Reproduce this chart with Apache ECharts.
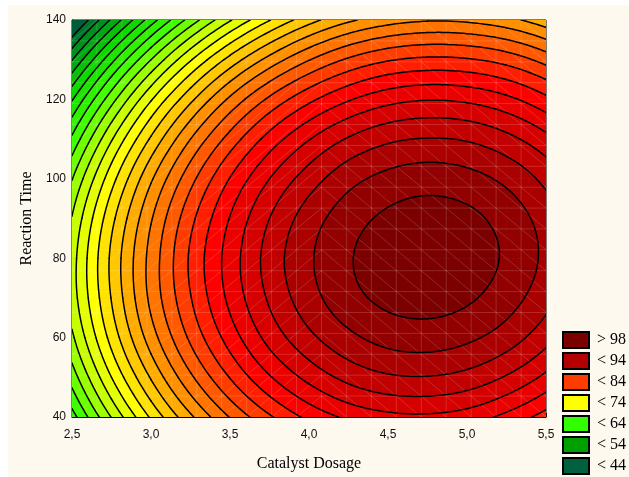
<!DOCTYPE html>
<html><head><meta charset="utf-8">
<script src="https://cdn.jsdelivr.net/npm/echarts@6/dist/echarts.min.js"></script>
<style>html,body{margin:0;padding:0;background:#fff}#c{width:629px;height:477px}</style>
</head><body><div id="c"></div>
<script>
// ---- data ----
const catalystDosage = [2.5, 2.75, 3.0, 3.25, 3.5, 3.75, 4.0, 4.25, 4.5, 4.75, 5.0, 5.25, 5.5];
const reactionTime = [40, 50, 60, 70, 80, 90, 100, 110, 120, 130, 140];
// response values, one row per reactionTime, one column per catalystDosage
const yieldRow40  = [57.1, 64.1, 70.3, 75.6, 80.1, 83.7, 86.5, 88.4, 89.4, 89.6, 89.0, 87.4, 85.1];
const yieldRow50  = [60.9, 68.0, 74.2, 79.6, 84.1, 87.8, 90.6, 92.6, 93.7, 93.9, 93.3, 91.8, 89.5];
const yieldRow60  = [63.6, 70.7, 77.0, 82.4, 86.9, 90.7, 93.5, 95.5, 96.7, 97.0, 96.4, 95.0, 92.7];
const yieldRow70  = [65.0, 72.1, 78.5, 83.9, 88.5, 92.3, 95.2, 97.3, 98.5, 98.8, 98.3, 96.9, 94.7];
const yieldRow80  = [65.1, 72.4, 78.7, 84.3, 88.9, 92.8, 95.7, 97.8, 99.1, 99.5, 99.0, 97.7, 95.5];
const yieldRow90  = [64.1, 71.4, 77.8, 83.4, 88.1, 92.0, 95.0, 97.1, 98.4, 98.9, 98.5, 97.2, 95.1];
const yieldRow100 = [61.9, 69.2, 75.7, 81.3, 86.1, 90.0, 93.0, 95.3, 96.6, 97.1, 96.7, 95.5, 93.4];
const yieldRow110 = [58.4, 65.8, 72.3, 78.0, 82.8, 86.8, 89.9, 92.2, 93.6, 94.1, 93.8, 92.6, 90.6];
const yieldRow120 = [53.8, 61.2, 67.8, 73.5, 78.4, 82.4, 85.5, 87.8, 89.3, 89.9, 89.6, 88.5, 86.5];
const yieldRow130 = [47.9, 55.4, 62.0, 67.8, 72.7, 76.7, 79.9, 82.3, 83.8, 84.4, 84.2, 83.2, 81.2];
const yieldRow140 = [40.8, 48.3, 55.0, 60.8, 65.8, 69.9, 73.2, 75.6, 77.1, 77.8, 77.6, 76.6, 74.7];
const contourLevels = [44, 46, 48, 50, 52, 54, 56, 58, 60, 62, 64, 66, 68, 70, 72, 74, 76, 78, 80, 82, 84, 86, 88, 90, 92, 94, 96, 98];
const legendLabels = ['> 98', '< 94', '< 84', '< 74', '< 64', '< 54', '< 44'];
const xTickLabels = ['2,5', '3,0', '3,5', '4,0', '4,5', '5,0', '5,5'];

// ---- styling ----
const legendColors = ['#7a0000', '#b40000', '#ff3c00', '#ffff00', '#33ff00', '#00a000', '#006040'];
const bandAnchors = [[0, '#005c3c'], [2, '#009020'], [5, '#10d800'], [8, '#40ff00'], [11, '#c8ff00'], [13, '#ffff00'],
  [15, '#ffc800'], [17, '#ff9000'], [19, '#ff5a00'], [21, '#ff2000'], [22, '#ff0000'], [25, '#c20000'], [27, '#920000'], [28, '#7c0000']];
const MESH_NODES = 20;          // faint triangulation mesh of the surface plot
const MESH_SPLIT = 10;          // mesh column where diagonal direction flips

const yieldGrid = [yieldRow40, yieldRow50, yieldRow60, yieldRow70, yieldRow80, yieldRow90, yieldRow100, yieldRow110, yieldRow120, yieldRow130, yieldRow140];
const NX = catalystDosage.length, NY = reactionTime.length;
const X0 = catalystDosage[0], X1 = catalystDosage[NX-1], Y0 = reactionTime[0], Y1 = reactionTime[NY-1];

function hex(c){return [parseInt(c.substr(1,2),16),parseInt(c.substr(3,2),16),parseInt(c.substr(5,2),16)];}
function bandColor(k){
  for(let a=0;a<bandAnchors.length-1;a++){
    const [k0,c0]=bandAnchors[a],[k1,c1]=bandAnchors[a+1];
    if(k>=k0&&k<=k1){
      const t=(k-k0)/(k1-k0),A=hex(c0),B=hex(c1);
      return 'rgb('+A.map((v,i)=>Math.round(v+(B[i]-v)*t)).join(',')+')';
    }
  }
  return bandAnchors[bandAnchors.length-1][1];
}
const nBands = contourLevels.length + 1;
const bandColors = [];
for(let k=0;k<nBands;k++) bandColors.push(bandColor(k));
function bandOf(z){let k=0;while(k<contourLevels.length&&z>=contourLevels[k])k++;return k;}

// smooth (Catmull-Rom) rendering of the grid, ghost nodes by quadratic extrapolation
function colVal(row, i){
  if(i<0) return 3*row[0]-3*row[1]+row[2];
  if(i>=NX) return 3*row[NX-1]-3*row[NX-2]+row[NX-3];
  return row[i];
}
function cr(p0,p1,p2,p3,t){
  return 0.5*(2*p1+(-p0+p2)*t+(2*p0-5*p1+4*p2-p3)*t*t+(-p0+3*p1-3*p2+p3)*t*t*t);
}
function rowInterp(j, fi){
  const i=Math.min(Math.floor(fi), NX-2), t=fi-i;
  const row=yieldGrid[j];
  return cr(colVal(row,i-1),colVal(row,i),colVal(row,i+1),colVal(row,i+2),t);
}
function rowAt(j, fi){
  if(j<0) return 3*rowInterp(0,fi)-3*rowInterp(1,fi)+rowInterp(2,fi);
  if(j>=NY) return 3*rowInterp(NY-1,fi)-3*rowInterp(NY-2,fi)+rowInterp(NY-3,fi);
  return rowInterp(j,fi);
}
function surf(fi, fj){
  const j=Math.min(Math.floor(fj), NY-2), t=fj-j;
  return cr(rowAt(j-1,fi),rowAt(j,fi),rowAt(j+1,fi),rowAt(j+2,fi),t);
}

// cells of the grid
const cells = [];
for(let j=0;j<NY-1;j++)
  for(let i=0;i<NX-1;i++)
    cells.push([catalystDosage[i], reactionTime[j], i, j]);

const SUB = 8;
function cellTriangles(api){
  const i=api.value(2), j=api.value(3);
  const x0=catalystDosage[i], x1=catalystDosage[i+1], y0=reactionTime[j], y1=reactionTime[j+1];
  const V=[];
  for(let b=0;b<=SUB;b++){
    const row=[]; const v=b/SUB;
    for(let a=0;a<=SUB;a++){
      const u=a/SUB;
      const z=surf(i+u, j+v);
      const p=api.coord([x0+(x1-x0)*u, y0+(y1-y0)*v]);
      row.push([p[0],p[1],z]);
    }
    V.push(row);
  }
  const tris=[];
  for(let b=0;b<SUB;b++)for(let a=0;a<SUB;a++){
    const A=V[b][a],B=V[b][a+1],C=V[b+1][a+1],D=V[b+1][a];
    tris.push([A,B,C]); tris.push([A,C,D]);
  }
  return tris;
}
function clip(poly, level, keepAbove){
  const out=[];
  for(let k=0;k<poly.length;k++){
    const P=poly[k],Q=poly[(k+1)%poly.length];
    const pin=keepAbove?P[2]>=level:P[2]<=level;
    const qin=keepAbove?Q[2]>=level:Q[2]<=level;
    if(pin)out.push(P);
    if(pin!==qin){
      const t=(level-P[2])/(Q[2]-P[2]);
      out.push([P[0]+t*(Q[0]-P[0]),P[1]+t*(Q[1]-P[1]),level]);
    }
  }
  return out;
}
function polyPath(poly){
  let s='M'+poly[0][0].toFixed(2)+' '+poly[0][1].toFixed(2);
  for(let k=1;k<poly.length;k++) s+='L'+poly[k][0].toFixed(2)+' '+poly[k][1].toFixed(2);
  return s+'Z';
}
function renderFill(params, api){
  const tris=cellTriangles(api);
  const paths={};
  for(const t of tris){
    const zs=t.map(p=>p[2]);
    const k0=bandOf(Math.min(...zs)), k1=bandOf(Math.max(...zs));
    for(let k=k0;k<=k1;k++){
      let poly=t;
      if(k0!==k1){
        if(k>0) poly=clip(poly, contourLevels[k-1], true);
        if(poly.length>=3 && k<contourLevels.length) poly=clip(poly, contourLevels[k], false);
      }
      if(poly.length<3) continue;
      paths[k]=(paths[k]||'')+polyPath(poly);
    }
  }
  const children=[];
  for(const k in paths){
    children.push({type:'path', shape:{pathData:paths[k]}, silent:true,
      style:{fill:bandColors[k], stroke:bandColors[k], lineWidth:0.7}});
  }
  return {type:'group', children};
}
function renderLines(params, api){
  const tris=cellTriangles(api);
  let d='';
  for(const t of tris){
    for(const L of contourLevels){
      const pts=[];
      for(let e=0;e<3;e++){
        const P=t[e],Q=t[(e+1)%3];
        if((P[2]<L&&Q[2]>=L)||(P[2]>=L&&Q[2]<L)){
          const s=(L-P[2])/(Q[2]-P[2]);
          pts.push([P[0]+s*(Q[0]-P[0]),P[1]+s*(Q[1]-P[1])]);
        }
      }
      if(pts.length===2) d+='M'+pts[0][0].toFixed(2)+' '+pts[0][1].toFixed(2)+'L'+pts[1][0].toFixed(2)+' '+pts[1][1].toFixed(2);
    }
  }
  if(!d) return null;
  return {type:'path', shape:{pathData:d}, silent:true,
    style:{fill:null, stroke:'#000', lineWidth:1.5, lineCap:'round', lineJoin:'round'}};
}
function renderMesh(params, api){
  const n=MESH_NODES-1;
  const P=(a,b)=>api.coord([X0+(X1-X0)*a/n, Y0+(Y1-Y0)*b/n]);
  let d='';
  const seg=(p,q)=>{d+='M'+p[0].toFixed(1)+' '+p[1].toFixed(1)+'L'+q[0].toFixed(1)+' '+q[1].toFixed(1);};
  for(let a=1;a<n;a++) seg(P(a,0),P(a,n));
  for(let b=1;b<n;b++) seg(P(0,b),P(n,b));
  for(let a=0;a<n;a++) for(let b=0;b<n;b++){
    if(a<MESH_SPLIT) seg(P(a,b),P(a+1,b+1)); else seg(P(a,b+1),P(a+1,b));
  }
  return {type:'path', shape:{pathData:d}, silent:true,
    style:{fill:null, stroke:'rgba(255,255,255,0.2)', lineWidth:0.8}};
}

const chart = echarts.init(document.getElementById('c'), null, {renderer:'canvas'});
const legendSeries = legendLabels.map((name, n)=>({
  name, type:'line', data:[], itemStyle:{color:legendColors[n]}, lineStyle:{color:legendColors[n]}
}));
chart.setOption({
  animation:false,
  backgroundColor:'#fef9ef',
  graphic:[
    {type:'rect', shape:{x:0,y:0,width:629,height:5}, style:{fill:'#fff'}, z:-10, silent:true},
    {type:'rect', shape:{x:0,y:0,width:8,height:477}, style:{fill:'#fff'}, z:-10, silent:true}
  ],
  grid:{left:72, right:83, top:20, bottom:57, show:true, borderColor:'#000', borderWidth:1, backgroundColor:'transparent'},
  xAxis:{type:'value', min:2.5, max:5.5, interval:0.5,
    name:'Catalyst Dosage', nameLocation:'middle', nameGap:39,
    nameTextStyle:{fontFamily:'Liberation Serif', fontSize:16, color:'#000'},
    axisLine:{show:true, lineStyle:{color:'#000', width:1}},
    axisTick:{show:true, inside:true, length:4, lineStyle:{color:'#000'}},
    axisLabel:{margin:12, fontFamily:'Liberation Sans', fontSize:12, color:'#111',
      formatter:(v)=>xTickLabels[Math.round((v-2.5)/0.5)]},
    splitLine:{show:false}},
  yAxis:{type:'value', min:40, max:140, interval:20,
    name:'Reaction Time', nameLocation:'middle', nameGap:36, nameRotate:90,
    nameTextStyle:{fontFamily:'Liberation Serif', fontSize:16, color:'#000'},
    axisLine:{show:true, lineStyle:{color:'#000', width:1}},
    axisTick:{show:true, inside:true, length:4, lineStyle:{color:'#000'}},
    axisLabel:{margin:6, fontFamily:'Liberation Sans', fontSize:12, color:'#111'},
    splitLine:{show:false}},
  legend:{orient:'vertical', left:562, top:331, height:170, padding:0, itemWidth:26, itemHeight:16, itemGap:3,
    icon:'rect', data:legendLabels, selectedMode:false,
    itemStyle:{borderColor:'#000', borderWidth:2},
    textStyle:{fontFamily:'Liberation Serif', fontSize:16, color:'#000', padding:[0,0,0,3]}},
  series:[
    {type:'custom', name:'surface', coordinateSystem:'cartesian2d', data:cells, encode:{x:0,y:1},
      renderItem:renderFill, clip:true, silent:true, z:1},
    {type:'custom', name:'mesh', coordinateSystem:'cartesian2d', data:[[X0, Y0]], encode:{x:0,y:1},
      renderItem:renderMesh, clip:true, silent:true, z:2},
    {type:'custom', name:'contours', coordinateSystem:'cartesian2d', data:cells, encode:{x:0,y:1},
      renderItem:renderLines, clip:true, silent:true, z:3}
  ].concat(legendSeries)
});
</script></body></html>
